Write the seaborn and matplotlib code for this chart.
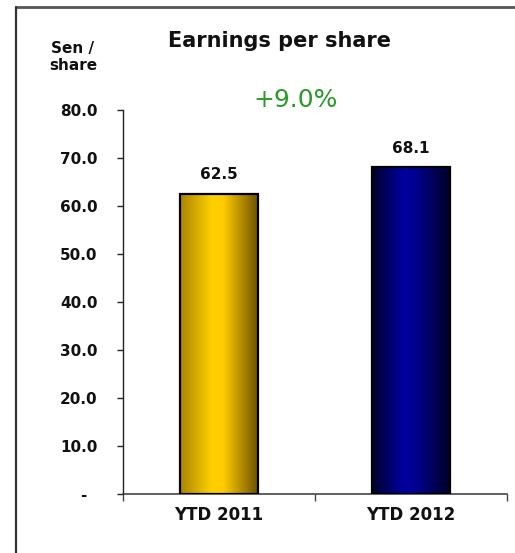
import numpy as np
import pandas as pd
import matplotlib
matplotlib.use("Agg")
import matplotlib.pyplot as plt
from matplotlib.colors import LinearSegmentedColormap
from matplotlib.lines import Line2D
import seaborn as sns

categories = ["YTD 2011", "YTD 2012"]
eps_values = [62.5, 68.1]
growth_label = "+9.0%"
y_ticks = [0, 10, 20, 30, 40, 50, 60, 70, 80]
y_tick_labels = ["-  ", "10.0", "20.0", "30.0", "40.0", "50.0", "60.0", "70.0", "80.0"]

# shade stops (left edge, highlight, right edge) for each bar
bar_shades = [
    ["#a98400", "#ffd000", "#ffcc00", "#6a4f00"],
    ["#00002a", "#0000a0", "#000090", "#000024"],
]
base_colors = ["#ffcc00", "#000090"]

sns.set_theme(style="white")
plt.rcParams["font.family"] = ["DejaVu Sans"]

df = pd.DataFrame({"period": categories, "eps": eps_values})

fig = plt.figure(figsize=(5.15, 5.53), dpi=100)
ax = fig.add_axes([123 / 515, 59 / 553, (507 - 123) / 515, (494 - 110) / 553])

sns.barplot(data=df, x="period", y="eps", hue="period", palette=base_colors,
            width=0.41, edgecolor="black", linewidth=1.6, legend=False, ax=ax)

ax.set_xlim(-0.5, 1.5)
ax.set_ylim(0, 80)

# horizontal shading inside each bar
for patch, shades in zip(ax.patches, bar_shades):
    x0, y0 = patch.get_x(), patch.get_y()
    w, h = patch.get_width(), patch.get_height()
    cmap = LinearSegmentedColormap.from_list("shade", list(zip([0, 0.4, 0.55, 1], shades)))
    grad = np.linspace(0, 1, 256).reshape(1, -1)
    im = ax.imshow(grad, cmap=cmap, aspect="auto", extent=[x0, x0 + w, y0, y0 + h],
                   zorder=patch.get_zorder() - 0.1, interpolation="bicubic")
    im.set_clip_path(patch)
    patch.set_facecolor("none")
    patch.set_zorder(3)
ax.set_xlim(-0.5, 1.5)
ax.set_ylim(0, 80)

# value labels
for i, v in enumerate(eps_values):
    ax.text(i, v + 2.4, f"{v:.1f}", ha="center", va="bottom", fontsize=11,
            fontweight="bold", color="#111111")

# axes styling
for side in ["top", "right"]:
    ax.spines[side].set_visible(False)
ax.spines["left"].set_color("#222222")
ax.spines["bottom"].set_color("#444444")
ax.spines["left"].set_linewidth(1.0)
ax.spines["bottom"].set_linewidth(1.2)
ax.set_yticks(y_ticks)
ax.set_yticklabels(y_tick_labels, fontsize=11, fontweight="bold", color="#111111")
ax.tick_params(axis="y", which="major", left=True, length=4.3, width=1.0,
               color="#222222", pad=14)
ax.set_xticks([0, 1])
ax.set_xticklabels(categories, fontsize=12, fontweight="bold", color="#111111")
ax.set_xticks([-0.5, 0.5, 1.5], minor=True)
ax.tick_params(axis="x", which="major", bottom=False, length=0, pad=9)
ax.tick_params(axis="x", which="minor", bottom=True, length=5, width=1.0, color="#444444")
ax.set_xlabel("")
ax.set_ylabel("")

# titles and annotations
fig.text(280 / 515, 1 - 47 / 553, "Earnings per share", ha="center", va="baseline",
         fontsize=15, fontweight="bold", color="#111111")
fig.text(73 / 515, 1 - 57 / 553, "Sen /\nshare", ha="center", va="center",
         fontsize=11, fontweight="bold", color="#111111", linespacing=1.1)
fig.text(296 / 515, 1 - 107 / 553, growth_label, ha="center", va="baseline",
         fontsize=18, color="#2a9a2a")

# outer frame
fig.add_artist(Line2D([16 / 515, 1.0], [1 - 7 / 553] * 2, transform=fig.transFigure,
                      color="#555555", linewidth=2.0))
fig.add_artist(Line2D([16 / 515] * 2, [0.0, 1 - 7 / 553], transform=fig.transFigure,
                      color="#333333", linewidth=1.6))

fig.savefig("out.png", dpi=100, facecolor="white")
